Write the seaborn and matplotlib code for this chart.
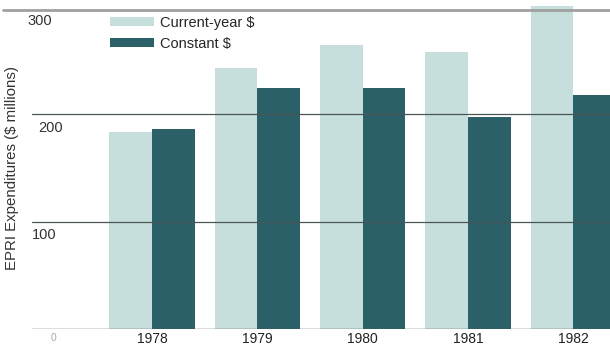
import pandas as pd
import numpy as np
import seaborn as sns
import matplotlib.pyplot as plt
from matplotlib.lines import Line2D

# data
years = ["1978", "1979", "1980", "1981", "1982"]
current_year = [184, 243, 265, 258, 301]
constant = [186, 225, 225, 198, 218]
series_names = ["Current-year $", "Constant $"]

df = pd.DataFrame({
    "year": years * 2,
    "value": current_year + constant,
    "series": [series_names[0]] * 5 + [series_names[1]] * 5,
})

sns.set_theme(style="white")
plt.rcParams["font.family"] = ["Liberation Sans", "DejaVu Sans"]

f = plt.figure(figsize=(6.1, 3.47), dpi=100)
ax = f.add_axes([32 / 610, 18 / 347, 578 / 610, 323 / 347])

palette = {series_names[0]: "#c6dfdc", series_names[1]: "#2b6068"}
sns.barplot(data=df, x="year", y="value", hue="series", palette=palette,
            width=0.81, gap=0, saturation=1, linewidth=0, ax=ax, legend=True)

ax.set_xlim(-1.14, 4.35)
ax.set_ylim(0, 301)

# gridlines and baseline
for yv in [100, 200]:
    ax.axhline(yv, color="#4a5556", lw=0.9, zorder=3)
ax.axhline(0, color="#555", lw=1.0, zorder=3)
f.add_artist(Line2D([3 / 610, 1], [1 - 10 / 347, 1 - 10 / 347],
                    color="#a0a0a0", lw=2.0))

sns.despine(ax=ax, left=True, bottom=True, top=True, right=True)

# y labels sit inside, just below each line
ax.set_yticks([])
for yv, xoff in [(300, -0.04), (200, 0.06), (100, 0.0)]:
    ax.text(-1.14 + xoff, yv - 6, str(yv), fontsize=10.5, color="#333",
            ha="left", va="top")
ax.text(-0.96, -4, "0", fontsize=7.5, color="#aaa", ha="left", va="top")

ax.set_xticks(range(5))
ax.set_xticklabels(years, fontsize=10, color="#222")
ax.tick_params(axis="x", length=0, pad=2)
ax.set_xlabel("")
ax.set_ylabel("")
f.text(12 / 610, 1 - 168 / 347, "EPRI Expenditures ($ millions)", rotation=90,
       fontsize=10.8, color="#333", ha="center", va="center")

handles, labels = ax.get_legend_handles_labels()
ax.legend(handles, labels, loc="upper left", bbox_to_anchor=(110 / 610, 1 - 16 / 347),
          bbox_transform=f.transFigure, frameon=False, fontsize=10.5,
          handlelength=3.0, handleheight=0.55, handletextpad=0.4,
          labelspacing=0.45, borderaxespad=0, borderpad=0)

plt.savefig("out.png", dpi=100)
